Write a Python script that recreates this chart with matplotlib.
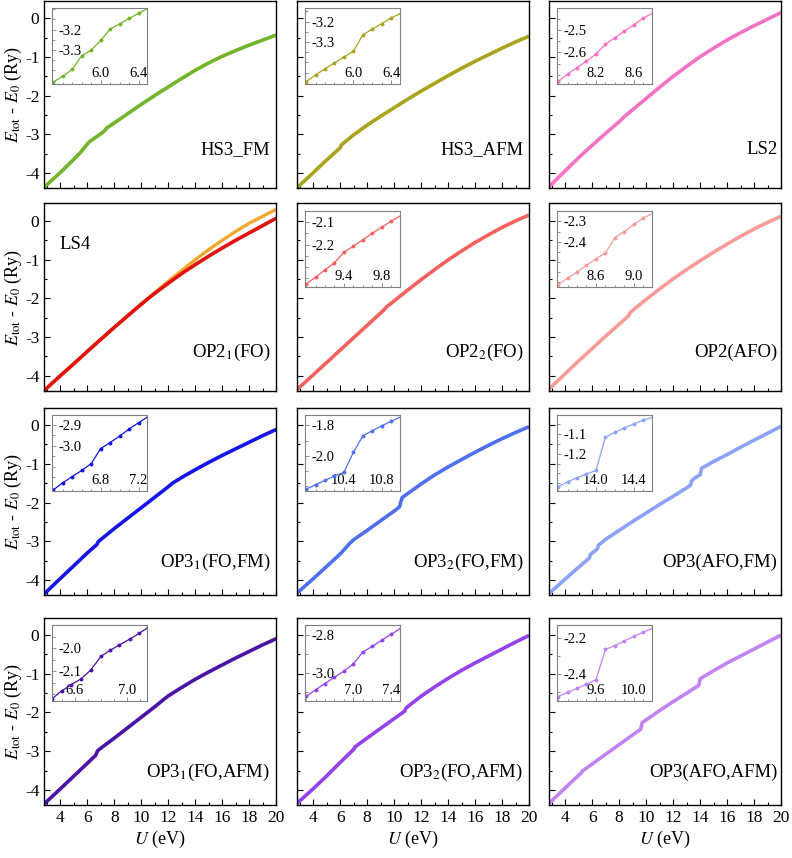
import matplotlib
matplotlib.use("Agg")
import matplotlib.pyplot as plt
from matplotlib.ticker import MultipleLocator, FixedLocator, FormatStrFormatter

plt.rcParams['font.family'] = ['Liberation Serif', 'DejaVu Serif']
plt.rcParams['mathtext.fontset'] = 'stix'
plt.rcParams['axes.unicode_minus'] = False

# ---------------------------------------------------------------------
# MAIN CURVES  (U in eV, E_tot - E_0 in Ry)
# ---------------------------------------------------------------------
U_hs3fm = [2.8, 4, 5, 5.5, 5.8, 6.1, 7, 7.3, 7.4, 8, 9, 10, 11, 12, 13, 14, 15, 16, 17, 18, 19, 20]
E_hs3fm = [-4.36, -3.98, -3.64, -3.46, -3.33, -3.20, -2.98, -2.90, -2.84, -2.70, -2.46, -2.22,
           -1.99, -1.77, -1.55, -1.34, -1.15, -0.98, -0.83, -0.69, -0.56, -0.43]

U_hs3afm = [2.8, 4, 5, 6, 6.1, 7, 8, 9, 10, 11, 12, 13, 14, 15, 16, 17, 18, 19, 20]
E_hs3afm = [-4.38, -3.99, -3.66, -3.345, -3.265, -3.01, -2.76, -2.53, -2.31, -2.09, -1.88,
            -1.68, -1.48, -1.29, -1.11, -0.94, -0.77, -0.61, -0.46]

U_ls2 = [2.8, 4, 5, 6, 7, 8, 8.2, 8.3, 9, 10, 11, 12, 13, 14, 15, 16, 17, 18, 19, 20]
E_ls2 = [-4.35, -3.94, -3.60, -3.28, -2.97, -2.67, -2.607, -2.563, -2.36, -2.07, -1.78, -1.50,
         -1.24, -0.99, -0.77, -0.56, -0.37, -0.19, -0.02, 0.15]

U_ls4 = [2.8, 4, 5, 6, 7, 8, 9, 10, 11, 12, 13, 14, 15, 16, 17, 18, 19, 20]
E_ls4 = [-4.38, -4.00, -3.69, -3.37, -3.06, -2.75, -2.45, -2.15, -1.85, -1.56, -1.28, -1.00,
         -0.74, -0.50, -0.27, -0.06, 0.12, 0.30]
U_op21 = [2.8, 4, 5, 6, 7, 8, 9, 10, 11, 12, 13, 14, 15, 16, 17, 18, 19, 20]
E_op21 = [-4.38, -4.00, -3.69, -3.37, -3.06, -2.75, -2.45, -2.15, -1.87, -1.61, -1.36, -1.13,
          -0.91, -0.70, -0.50, -0.31, -0.12, 0.07]

U_op22 = [2.8, 4, 5, 6, 7, 8, 9, 9.3, 9.4, 10, 11, 12, 13, 14, 15, 16, 17, 18, 19, 20]
E_op22 = [-4.36, -3.98, -3.66, -3.34, -3.02, -2.70, -2.38, -2.281, -2.234, -2.07, -1.79, -1.52,
          -1.26, -1.01, -0.78, -0.56, -0.36, -0.17, 0.00, 0.15]

U_op2afo = [2.8, 4, 5, 6, 7, 8, 8.7, 8.8, 9, 10, 11, 12, 13, 14, 15, 16, 17, 18, 19, 20]
E_op2afo = [-4.35, -3.95, -3.62, -3.30, -2.98, -2.67, -2.455, -2.38, -2.315, -2.03, -1.76, -1.50,
            -1.26, -1.03, -0.81, -0.60, -0.40, -0.21, -0.04, 0.12]

U_op31fm = [2.8, 4, 5, 6, 6.7, 6.8, 7, 8, 9, 10, 11, 12, 12.3, 13, 14, 15, 16, 17, 18, 19, 20]
E_op31fm = [-4.36, -3.96, -3.63, -3.30, -3.085, -3.013, -2.953, -2.67, -2.40, -2.13, -1.86, -1.59,
            -1.50, -1.35, -1.15, -0.96, -0.78, -0.61, -0.44, -0.27, -0.11]

U_op32fm = [2.8, 4, 5, 6, 6.7, 7, 8, 9, 10, 10.4, 10.5, 10.6, 11, 12, 12.9, 14, 15, 16, 17, 18, 19, 20]
E_op32fm = [-4.34, -3.97, -3.65, -3.33, -3.06, -2.96, -2.72, -2.47, -2.221, -2.11, -1.977, -1.869,
            -1.77, -1.52, -1.31, -1.08, -0.89, -0.70, -0.52, -0.35, -0.19, -0.04]

U_op3afofm = [2.8, 4, 5, 5.8, 5.85, 6.4, 6.45, 7, 8, 9, 10, 11, 12, 13, 13.3, 13.35, 13.6, 14.0, 14.1,
              15, 16, 17, 18, 19, 20]
E_op3afofm = [-4.35, -3.98, -3.67, -3.43, -3.35, -3.19, -3.11, -2.95, -2.72, -2.49, -2.27, -2.05,
              -1.84, -1.62, -1.55, -1.45, -1.367, -1.285, -1.117, -0.94, -0.76, -0.57, -0.39, -0.21, -0.03]

U_op31afm = [2.8, 4, 5, 6, 6.6, 6.75, 7, 8, 9, 10, 11, 11.7, 12, 13, 14, 15, 16, 17, 18, 19, 20]
E_op31afm = [-4.36, -3.97, -3.64, -3.31, -3.11, -2.99, -2.92, -2.66, -2.39, -2.12, -1.85, -1.65,
             -1.57, -1.35, -1.14, -0.95, -0.77, -0.59, -0.42, -0.25, -0.09]

U_op32afm = [2.8, 4, 5, 6, 7.0, 7.1, 8, 9, 10, 10.8, 10.85, 11, 12, 13, 14, 15, 16, 17, 18, 19, 20]
E_op32afm = [-4.35, -3.97, -3.64, -3.29, -2.953, -2.89, -2.66, -2.41, -2.16, -1.96, -1.90, -1.85,
             -1.58, -1.34, -1.12, -0.91, -0.72, -0.54, -0.36, -0.18, -0.01]

U_op3afoafm = [2.8, 4, 5, 5.2, 5.25, 6, 7, 8, 9, 9.6, 9.7, 10, 11, 12, 13, 13.9, 14.0, 15, 16, 17, 18, 19, 20]
E_op3afoafm = [-4.35, -3.95, -3.62, -3.56, -3.52, -3.33, -3.08, -2.83, -2.58, -2.433, -2.264, -2.191,
               -1.95, -1.72, -1.50, -1.30, -1.13, -0.92, -0.72, -0.54, -0.36, -0.18, 0.00]

# ---------------------------------------------------------------------
# INSET DATA  (zoom on the jumps)
# ---------------------------------------------------------------------
iU_hs3fm = [5.5, 5.6, 5.7, 5.8, 5.9, 6.0, 6.1, 6.2, 6.3, 6.4, 6.5]
iE_hs3fm = [-3.457, -3.428, -3.395, -3.328, -3.300, -3.253, -3.197, -3.172, -3.145, -3.120, -3.095]
iU_hs3afm = [5.5, 5.6, 5.7, 5.8, 5.9, 6.0, 6.1, 6.2, 6.3, 6.4, 6.5]
iE_hs3afm = [-3.494, -3.461, -3.431, -3.402, -3.374, -3.345, -3.265, -3.237, -3.210, -3.182, -3.160]
iU_ls2 = [7.8, 7.9, 8.0, 8.1, 8.2, 8.3, 8.4, 8.5, 8.6, 8.7, 8.8]
iE_ls2 = [-2.731, -2.698, -2.669, -2.639, -2.607, -2.563, -2.533, -2.504, -2.475, -2.445, -2.421]
iU_op22 = [9.0, 9.1, 9.2, 9.3, 9.4, 9.5, 9.6, 9.7, 9.8, 9.9, 10.0]
iE_op22 = [-2.376, -2.346, -2.313, -2.281, -2.234, -2.207, -2.178, -2.149, -2.122, -2.094, -2.070]
iU_op2afo = [8.2, 8.3, 8.4, 8.5, 8.6, 8.7, 8.8, 8.9, 9.0, 9.1, 9.2]
iE_op2afo = [-2.613, -2.580, -2.550, -2.517, -2.485, -2.455, -2.380, -2.350, -2.315, -2.283, -2.260]
iU_op31fm = [6.3, 6.4, 6.5, 6.6, 6.7, 6.8, 6.9, 7.0, 7.1, 7.2, 7.3]
iE_op31fm = [-3.211, -3.177, -3.147, -3.118, -3.085, -3.013, -2.984, -2.953, -2.919, -2.889, -2.860]
iU_op32fm = [10.0, 10.1, 10.2, 10.3, 10.4, 10.5, 10.6, 10.7, 10.8, 10.9, 11.0]
iE_op32fm = [-2.221, -2.191, -2.163, -2.133, -2.110, -1.977, -1.869, -1.834, -1.802, -1.772, -1.743]
iU_op3afofm = [13.6, 13.7, 13.8, 13.9, 14.0, 14.1, 14.2, 14.3, 14.4, 14.5, 14.6]
iE_op3afofm = [-1.367, -1.342, -1.322, -1.303, -1.285, -1.117, -1.092, -1.070, -1.050, -1.030, -1.017]
iU_op31afm = [6.43, 6.50, 6.57, 6.65, 6.72, 6.80, 6.87, 6.94, 7.02, 7.09, 7.16]
iE_op31afm = [-2.219, -2.186, -2.160, -2.133, -2.096, -2.036, -2.010, -1.986, -1.961, -1.936, -1.910]
iU_op32afm = [6.5, 6.6, 6.7, 6.8, 6.9, 7.0, 7.1, 7.2, 7.3, 7.4, 7.5]
iE_op32afm = [-3.125, -3.090, -3.057, -3.023, -2.991, -2.953, -2.890, -2.861, -2.828, -2.797, -2.765]
iU_op3afoafm = [9.2, 9.3, 9.4, 9.5, 9.6, 9.7, 9.8, 9.9, 10.0, 10.1, 10.2]
iE_op3afoafm = [-2.527, -2.504, -2.482, -2.458, -2.433, -2.264, -2.242, -2.216, -2.191, -2.167, -2.145]

# inset axis ranges and labelled ticks
ixlim = [(5.49, 6.49), (5.49, 6.49), (7.79, 8.79), None, (8.99, 9.99), (8.19, 9.19),
         (6.29, 7.29), (9.99, 10.99), (13.59, 14.59), (6.43, 7.15), (6.49, 7.49), (9.19, 10.19)]
iylim = [(-3.467, -3.095), (-3.506, -3.135), (-2.743, -2.40), None, (-2.388, -2.048), (-2.622, -2.247),
         (-3.216, -2.852), (-2.232, -1.731), (-1.388, -1.005), (-2.229, -1.90), (-3.148, -2.748),
         (-2.551, -2.127)]
ixticks = [[6.0, 6.4], [6.0, 6.4], [8.2, 8.6], None, [9.4, 9.8], [8.6, 9.0],
           [6.8, 7.2], [10.4, 10.8], [14.0, 14.4], [6.6, 7.0], [7.0, 7.4], [9.6, 10.0]]
iyticks = [[-3.2, -3.3], [-3.2, -3.3], [-2.5, -2.6], None, [-2.1, -2.2], [-2.3, -2.4],
           [-2.9, -3.0], [-1.8, -2.0], [-1.1, -1.2], [-2.0, -2.1], [-2.8, -3.0], [-2.2, -2.4]]

names = ["HS3_FM", "HS3_AFM", "LS2",
         "OP2$_{1}$(FO)", "OP2$_{2}$(FO)", "OP2(AFO)",
         "OP3$_{1}$(FO,FM)", "OP3$_{2}$(FO,FM)", "OP3(AFO,FM)",
         "OP3$_{1}$(FO,AFM)", "OP3$_{2}$(FO,AFM)", "OP3(AFO,AFM)"]
colors = ["#72b52a", "#aaa41c", "#f472c6",
          "#e3120e", "#f5615f", "#f79c98",
          "#1414e8", "#4f6ff0", "#8ca2f6",
          "#4c12a8", "#9442ee", "#c283f5"]
ls4_color = "#f0a92e"

main_U = [U_hs3fm, U_hs3afm, U_ls2, U_op21, U_op22, U_op2afo,
          U_op31fm, U_op32fm, U_op3afofm, U_op31afm, U_op32afm, U_op3afoafm]
main_E = [E_hs3fm, E_hs3afm, E_ls2, E_op21, E_op22, E_op2afo,
          E_op31fm, E_op32fm, E_op3afofm, E_op31afm, E_op32afm, E_op3afoafm]
ins_U = [iU_hs3fm, iU_hs3afm, iU_ls2, None, iU_op22, iU_op2afo,
         iU_op31fm, iU_op32fm, iU_op3afofm, iU_op31afm, iU_op32afm, iU_op3afoafm]
ins_E = [iE_hs3fm, iE_hs3afm, iE_ls2, None, iE_op22, iE_op2afo,
         iE_op31fm, iE_op32fm, iE_op3afofm, iE_op31afm, iE_op32afm, iE_op3afoafm]

# ---------------------------------------------------------------------
# FIGURE
# ---------------------------------------------------------------------
fig = plt.figure(figsize=(7.92, 8.58), dpi=100)
lefts = [0.0559, 0.375, 0.6932]
bottoms = [0.7806, 0.5446, 0.3065, 0.0618]
W, H = 0.293, 0.2183

for i in range(12):
    r, c = divmod(i, 3)
    ax = fig.add_axes([lefts[c], bottoms[r], W, H])

    if i == 3:
        ax.plot(U_ls4, E_ls4, color=ls4_color, lw=2.4, solid_capstyle='butt')
    ax.plot(main_U[i], main_E[i], color=colors[i], lw=2.6, solid_capstyle='butt')

    ax.set_xlim(2.8, 20)
    ax.set_ylim(-4.39, 0.45)
    ax.xaxis.set_major_locator(FixedLocator([4, 6, 8, 10, 12, 14, 16, 18, 20]))
    ax.xaxis.set_minor_locator(MultipleLocator(1))
    ax.yaxis.set_major_locator(MultipleLocator(1))
    ax.yaxis.set_minor_locator(MultipleLocator(0.5))
    ax.tick_params(which='both', direction='in', top=False, right=False, labelsize=12.5)
    ax.tick_params(which='major', length=4.5, width=0.8)
    ax.tick_params(which='minor', length=2.5, width=0.8)
    for s in ax.spines.values():
        s.set_linewidth(1.0)

    if c != 0:
        ax.tick_params(labelleft=False)
    else:
        ax.set_ylabel(r'$E_{\rm tot}$ - $E_0$ (Ry)', fontsize=13, labelpad=1)
    if r != 3:
        ax.tick_params(labelbottom=False)
    else:
        ax.set_xlabel(r'$U$ (eV)', fontsize=13, labelpad=2)

    ty = 0.205 if r < 2 else 0.175
    tx = 0.975 if c < 2 else 0.985
    ax.text(tx, ty, names[i], transform=ax.transAxes, ha='right', va='center', fontsize=13.5)
    if i == 3:
        ax.text(0.065, 0.78, "LS4", transform=ax.transAxes, ha='left', va='center', fontsize=13.5)
        continue

    # inset
    ia = ax.inset_axes([0.035, 0.556, 0.408, 0.405])
    ia.plot(ins_U[i], ins_E[i], color=colors[i], lw=0.9, marker='o', ms=1.8)
    ia.set_xlim(*ixlim[i])
    ia.set_ylim(*iylim[i])
    ia.xaxis.set_major_locator(FixedLocator(ixticks[i]))
    ia.yaxis.set_major_locator(FixedLocator(iyticks[i]))
    ia.xaxis.set_minor_locator(MultipleLocator(0.1))
    ystep = abs(iyticks[i][0] - iyticks[i][1])
    ia.yaxis.set_minor_locator(MultipleLocator(ystep / 2))
    ia.tick_params(which='both', direction='in', color='#808080', width=0.6, labelsize=10.5)
    ia.tick_params(which='major', length=3)
    ia.tick_params(which='minor', length=1.8)
    ia.tick_params(axis='y', pad=-21)
    ia.tick_params(axis='x', pad=-12)
    ia.xaxis.set_major_formatter(FormatStrFormatter('%.1f'))
    ia.yaxis.set_major_formatter(FormatStrFormatter('%.1f'))
    for s in ia.spines.values():
        s.set_color('#808080')
        s.set_linewidth(0.8)

fig.savefig("out.png", dpi=100)
